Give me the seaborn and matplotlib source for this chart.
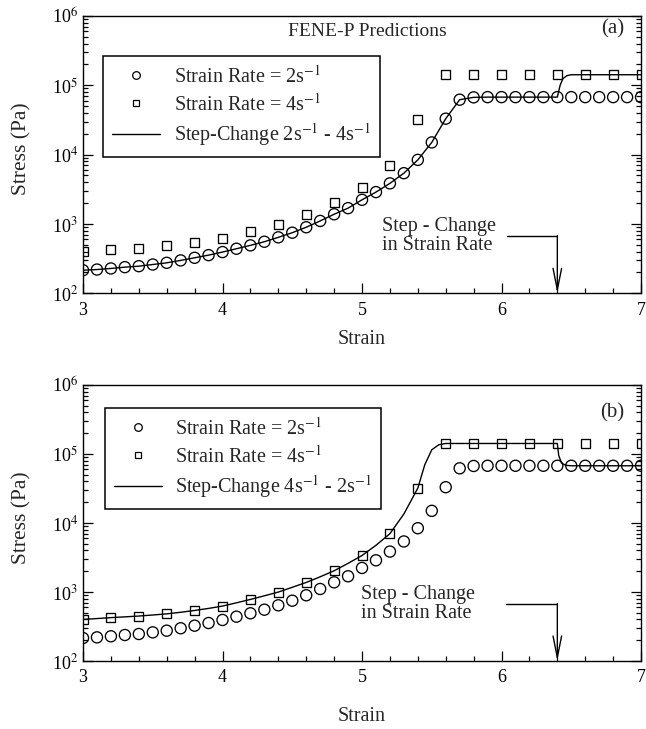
import numpy as np
import pandas as pd
import matplotlib
matplotlib.use("Agg")
import matplotlib.pyplot as plt
import seaborn as sns
from matplotlib.lines import Line2D
from matplotlib.ticker import MultipleLocator, LogLocator, NullFormatter, FixedLocator

# ---------------- data ----------------
strain_2 = [3.0, 3.1, 3.2, 3.3, 3.4, 3.5, 3.6, 3.7, 3.8, 3.9,
            4.0, 4.1, 4.2, 4.3, 4.4, 4.5, 4.6, 4.7, 4.8, 4.9,
            5.0, 5.1, 5.2, 5.3, 5.4, 5.5, 5.6, 5.7, 5.8, 5.9,
            6.0, 6.1, 6.2, 6.3, 6.4, 6.5, 6.6, 6.7, 6.8, 6.9, 7.0]
stress_2 = [215, 220, 228, 238, 246, 260, 275, 298, 325, 355,
            393, 439, 491, 554, 641, 748, 896, 1105, 1380, 1690,
            2230, 2880, 3850, 5400, 8400, 15000, 33000, 62000, 67000, 67500,
            67500, 67500, 67500, 67500, 67500, 67500, 67500, 67500, 67500, 67500, 67500]

strain_4 = [3.0, 3.2, 3.4, 3.6, 3.8, 4.0, 4.2, 4.4, 4.6, 4.8,
            5.0, 5.2, 5.4, 5.6, 5.8, 6.0, 6.2, 6.4, 6.6, 6.8, 7.0]
stress_4 = [400, 425, 448, 482, 540, 625, 780, 997, 1375, 2030,
            3380, 7000, 32000, 142000, 142000, 142000, 142000, 142000, 142000, 142000, 142000]

# step change 2 -> 4 s^-1 (panel a)
strain_a = strain_2[:35] + [6.42, 6.44, 6.47, 6.5, 6.6, 6.7, 6.8, 6.9, 7.0]
stress_a = stress_2[:35] + [100000, 125000, 138000, 142000, 142000, 142000, 142000, 142000, 142000]

# step change 4 -> 2 s^-1 (panel b)
strain_b = [3.0, 3.1, 3.2, 3.3, 3.4, 3.5, 3.6, 3.7, 3.8, 3.9,
            4.0, 4.1, 4.2, 4.3, 4.4, 4.5, 4.6, 4.7, 4.8, 4.9,
            5.0, 5.1, 5.2, 5.3, 5.4, 5.45, 5.5, 5.55, 5.6,
            5.7, 5.8, 5.9, 6.0, 6.1, 6.2, 6.3, 6.4,
            6.41, 6.43, 6.46, 6.5, 6.6, 6.7, 6.8, 6.9, 7.0]
stress_b = [400, 412, 425, 436, 448, 464, 482, 508, 540, 578,
            625, 697, 780, 880, 997, 1170, 1375, 1660, 2030, 2600,
            3380, 4750, 7000, 13500, 32000, 70000, 115000, 136000, 142000,
            142000, 142000, 142000, 142000, 142000, 142000, 142000, 142000,
            95000, 74000, 68500, 67500, 67500, 67500, 67500, 67500, 67500]

legend_a = ["Strain Rate = 2s$^{-1}$", "Strain Rate = 4s$^{-1}$",
            "Step-Change 2s$^{-1}$ - 4s$^{-1}$"]
legend_b = ["Strain Rate = 2s$^{-1}$", "Strain Rate = 4s$^{-1}$",
            "Step-Change 4s$^{-1}$ - 2s$^{-1}$"]
ytick_vals = [1e2, 1e3, 1e4, 1e5, 1e6]
ytick_labels = ["10$^{2}$", "10$^{3}$", "10$^{4}$", "10$^{5}$", "10$^{6}$"]
xtick_vals = [3, 4, 5, 6, 7]
xtick_labels = ["3", "4", "5", "6", "7"]
step_strain = 6.4
annot_text = "Step - Change\nin Strain Rate"

# ---------------- style ----------------
sns.set_style("ticks")
plt.rcParams["font.family"] = ["Liberation Serif", "DejaVu Serif"]
plt.rcParams["mathtext.fontset"] = "stix"
plt.rcParams["axes.linewidth"] = 1.0

fig = plt.figure(figsize=(6.46, 7.29), dpi=100)
ax_a = fig.add_axes([0.1285, 0.5977, 0.8638, 0.3804])
ax_b = fig.add_axes([0.1285, 0.0933, 0.8638, 0.3786])


def draw_panel(ax, line_x, line_y, labels, tag, tag_pos, leg_anchor, text_x,
               line_start, xpad):
    sns.lineplot(x=line_x, y=line_y, ax=ax, color="black", linewidth=1.0,
                 estimator=None, sort=False, zorder=2)
    sns.scatterplot(x=strain_2, y=stress_2, ax=ax, marker="o", s=64,
                    facecolor="none", edgecolor="black", linewidth=0.95,
                    legend=False, zorder=3)
    sns.scatterplot(x=strain_4, y=stress_4, ax=ax, marker="s", s=42,
                    facecolor="none", edgecolor="black", linewidth=0.95,
                    legend=False, zorder=3)
    for coll in ax.collections:
        coll.set_facecolor("none")
        coll.set_edgecolor("black")

    ax.set_yscale("log")
    ax.set_xlim(3, 7)
    ax.set_ylim(1e2, 1e6)
    ax.xaxis.set_major_locator(FixedLocator(xtick_vals))
    ax.set_xticklabels(xtick_labels)
    ax.xaxis.set_minor_locator(MultipleLocator(0.2))
    ax.yaxis.set_major_locator(FixedLocator(ytick_vals))
    ax.set_yticklabels(ytick_labels)
    ax.yaxis.set_minor_locator(LogLocator(base=10, subs=np.arange(2, 10)))
    ax.yaxis.set_minor_formatter(NullFormatter())
    ax.tick_params(axis="both", which="both", direction="in", labelsize=13,
                   colors="black", width=0.9)
    ax.tick_params(axis="y", which="both", left=True, right=True)
    ax.tick_params(axis="x", which="both", bottom=True, top=False, pad=6)
    ax.tick_params(which="major", length=7)
    ax.tick_params(which="minor", length=3.5)
    for sp in ax.spines.values():
        sp.set_visible(True)
        sp.set_color("black")
        sp.set_linewidth(1.0)

    ax.set_xlabel("Strain", fontsize=14.5, labelpad=xpad)
    ax.set_ylabel("Stress (Pa)", fontsize=15.5)
    ax.yaxis.set_label_coords(-0.092, 0.52)

    handles = [
        Line2D([], [], linestyle="none", marker="o", markersize=5.5,
               markerfacecolor="none", markeredgecolor="black", markeredgewidth=0.9),
        Line2D([], [], linestyle="none", marker="s", markersize=5,
               markerfacecolor="none", markeredgecolor="black", markeredgewidth=0.9),
        Line2D([], [], color="black", linewidth=1.0),
    ]
    leg = ax.legend(handles, labels, loc="upper left", bbox_to_anchor=leg_anchor,
                    borderaxespad=0, fontsize=14.5, frameon=True, fancybox=False,
                    edgecolor="black", handlelength=2.4, handletextpad=0.65,
                    labelspacing=0.3, borderpad=0.45)
    leg.get_frame().set_linewidth(1.1)
    leg.get_frame().set_alpha(1)

    ax.text(tag_pos[0], tag_pos[1], tag, transform=ax.transAxes, fontsize=15,
            ha="center", va="center")

    level = 680
    ax.text(text_x, level, annot_text, fontsize=14.5, ha="left", va="center",
            multialignment="left", linespacing=1.0)
    ax.plot([line_start, step_strain], [level, level], color="black", linewidth=1.0)
    ax.annotate("", xy=(step_strain, 1e2), xytext=(step_strain, level),
                arrowprops=dict(arrowstyle="->,head_length=1.1,head_width=0.22",
                                color="black", linewidth=1.0, shrinkA=0, shrinkB=0,
                                mutation_scale=14))


draw_panel(ax_a, strain_a, stress_a, legend_a, "(a)", (0.950, 0.952),
           (0.036, 0.854), 5.14, 6.04, 8)
ax_a.text(0.51, 0.943, "FENE-P Predictions", transform=ax_a.transAxes,
          fontsize=14, ha="center", va="center")

draw_panel(ax_b, strain_b, stress_b, legend_b, "(b)", (0.948, 0.90),
           (0.039, 0.916), 4.99, 6.03, 15)

fig.savefig("out.png", dpi=100)
